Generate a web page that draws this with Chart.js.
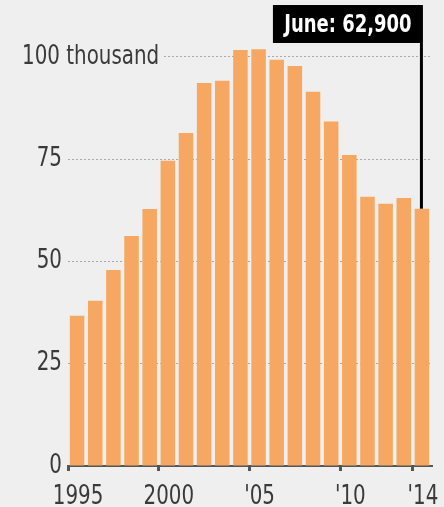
<!DOCTYPE html>
<html lang="en">
<head>
<meta charset="UTF-8">
<title>June: 62,900</title>
<style>
  html, body { margin: 0; padding: 0; background: #efefef; }
  .wrap { width: 444px; height: 507px; }
</style>
</head>
<body>
<div class="wrap">
  <canvas id="chart" width="444" height="507"></canvas>
</div>
<script src="https://cdn.jsdelivr.net/npm/chart.js"></script>
<script>
// data, in thousands
const years = ['1995','1996','1997','1998','1999','2000','2001','2002','2003','2004',
               '2005','2006','2007','2008','2009','2010','2011','2012','2013','2014'];
const values = [36.7, 40.4, 47.9, 56.2, 62.8, 74.6, 81.4, 93.6, 94.2, 101.7,
                101.9, 99.3, 97.8, 91.5, 84.2, 76.0, 65.8, 64.1, 65.5, 62.9];
const xTickLabels = ['1995','','','','','2000','','','','',
                     "'05",'','','','',"'10",'','','',"'14"];
const yTicks = [0, 25, 50, 75, 100];
const calloutMonth = 'June';

const FONT = '"DejaVu Sans Condensed", "DejaVu Sans", sans-serif';
const TEXT = '#3a3a3a';
const BG = '#efefef';
const SQUEEZE = 0.85; // narrow newspaper type

// squeezed text helper
function narrowText(ctx, txt, x, y, align, sx) {
  ctx.save();
  ctx.translate(x, y);
  ctx.scale(sx, 1);
  ctx.textAlign = align;
  ctx.fillText(txt, 0, 0);
  ctx.restore();
}

// axis labels drawn by hand so "100 thousand" can sit inside the plot
const axisLabels = {
  id: 'axisLabels',
  afterDatasetsDraw(chart) {
    const ctx = chart.ctx;
    const y = chart.scales.y;
    const x = chart.scales.x;
    ctx.save();
    ctx.font = '26px ' + FONT;
    ctx.fillStyle = TEXT;
    ctx.textBaseline = 'middle';
    yTicks.forEach(v => {
      const py = y.getPixelForValue(v);
      if (v === 100) {
        ctx.fillStyle = BG;
        ctx.fillRect(16, py - 4, 148, 8);
        ctx.fillStyle = TEXT;
        narrowText(ctx, '100 thousand', 22, py, 'left', SQUEEZE);
      } else {
        narrowText(ctx, String(v), 62, py, 'right', SQUEEZE);
      }
    });
    ctx.textBaseline = 'alphabetic';
    xTickLabels.forEach((lab, i) => {
      if (lab) narrowText(ctx, lab, x.getPixelForValue(i) + 1, 504, 'center', SQUEEZE);
    });
    ctx.restore();
  }
};

// black callout on the last bar
const callout = {
  id: 'callout',
  afterDatasetsDraw(chart) {
    const ctx = chart.ctx;
    const last = values.length - 1;
    const bar = chart.getDatasetMeta(0).data[last];
    const txt = calloutMonth + ': ' + Math.round(values[last] * 1000).toLocaleString('en-US');
    const right = bar.x + 1, top = 5, bottom = 43, left = right - 150;
    ctx.save();
    ctx.strokeStyle = '#000';
    ctx.lineWidth = 3;
    ctx.beginPath();
    ctx.moveTo(bar.x - 0.5, bottom);
    ctx.lineTo(bar.x - 0.5, bar.y);
    ctx.stroke();
    ctx.fillStyle = '#000';
    ctx.fillRect(left, top, right - left, bottom - top);
    ctx.fillStyle = '#fff';
    ctx.font = 'bold 25px ' + FONT;
    ctx.textBaseline = 'middle';
    narrowText(ctx, txt, (left + right) / 2, (top + bottom) / 2 + 1, 'center', 0.8);
    ctx.restore();
  }
};

new Chart(document.getElementById('chart'), {
  type: 'bar',
  data: {
    labels: years,
    datasets: [{
      data: values,
      backgroundColor: '#f6a862',
      barPercentage: 0.8,
      categoryPercentage: 1.0
    }]
  },
  options: {
    responsive: false,
    animation: false,
    layout: { padding: { top: 16, right: 13, left: 0, bottom: 0 } },
    plugins: { legend: { display: false }, tooltip: { enabled: false } },
    scales: {
      x: {
        afterFit: s => { s.height = 41; },
        grid: {
          drawOnChartArea: false,
          tickLength: 5,
          lineWidth: 3,
          color: c => xTickLabels[c.index] ? '#555' : 'rgba(0,0,0,0)'
        },
        border: { display: true, color: '#555', width: 2 },
        ticks: { autoSkip: false, display: false }
      },
      y: {
        min: 0,
        max: 110,
        afterFit: s => { s.width = 68; },
        ticks: { stepSize: 25, includeBounds: false, display: false },
        grid: {
          drawTicks: false,
          color: c => (c.tick && c.tick.value > 0) ? '#a8a8a8' : 'rgba(0,0,0,0)',
          lineWidth: 1
        },
        border: { display: false, dash: [2, 2] }
      }
    }
  },
  plugins: [axisLabels, callout]
});
</script>
</body>
</html>
